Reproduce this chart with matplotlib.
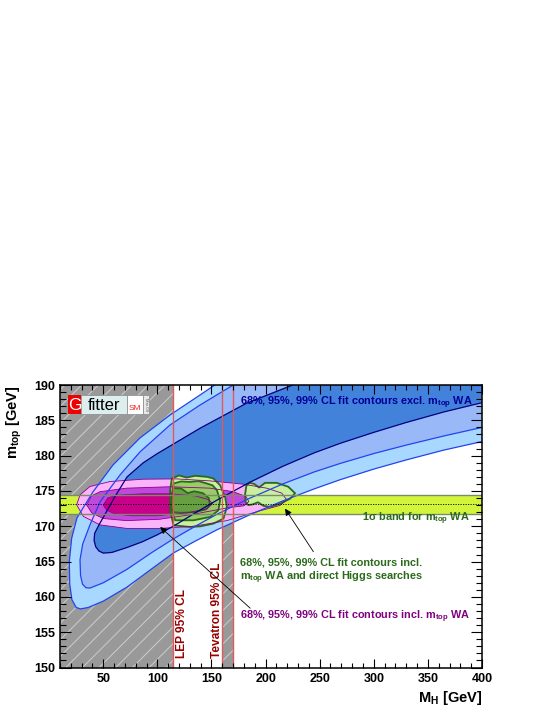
import matplotlib
matplotlib.use('Agg')
import matplotlib.pyplot as plt
from matplotlib.patches import Rectangle
import numpy as np

plt.rcParams['font.family'] = ['Liberation Sans', 'DejaVu Sans']
plt.rcParams['mathtext.fontset'] = 'custom'
plt.rcParams['mathtext.rm'] = 'Liberation Sans'
plt.rcParams['mathtext.bf'] = 'Liberation Sans:bold'
plt.rcParams['mathtext.it'] = 'Liberation Sans:italic'
plt.rcParams['hatch.linewidth'] = 0.7

# limits and top mass world average
lep_limit = 114.4
tev_low, tev_high = 160.0, 170.0
mtop_wa, mtop_err = 173.1, 1.3

# fit excluding mtop WA (blue), contour outlines (MH, mtop)
blue99_mh = [175, 153, 139.4, 111.7, 83.9, 59.0, 40.5, 25.7, 20.8, 18.6, 19.0, 21.0, 25, 29, 36, 50,
             72, 95, 114.6, 135, 155, 185, 216, 245, 269, 300, 330, 365, 400, 430, 430]
blue99_mt = [192, 190, 188.59, 185.76, 182.51, 178.69, 174.88, 171.2, 168.33, 165.03, 161.8, 159.6, 158.5,
             158.3, 158.5, 159.4, 161.4, 164.0, 166.2, 167.9, 169.5, 171.6, 173.6, 175.3, 176.6, 178.1,
             179.4, 180.8, 182.0, 183.0, 200]
blue95_mh = [195, 170, 139.4, 111.7, 83.9, 65.5, 47.0, 37.7, 31, 28.5, 29, 30.8, 34, 37.7, 50, 71.9,
             95, 114.6, 135, 155, 185, 216, 245, 269, 300, 330, 365, 400, 430, 430]
blue95_mt = [192.3, 190, 187.17, 184.35, 180.53, 177.28, 173.46, 170.21, 167.5, 165.27, 163.0, 161.8,
             161.3, 161.25, 162.0, 163.9, 166.3, 168.2, 170.0, 171.7, 173.95, 176.0, 177.7, 178.9, 180.3,
             181.5, 182.8, 184.0, 184.9, 200]
blue68_mh = [260, 225, 182, 139.6, 100, 87, 72, 60, 52, 46, 42, 41.5, 43, 46, 50, 58, 72, 86, 100,
             114.6, 135, 155, 185, 216, 245, 269, 300, 330, 365, 400, 430, 430]
blue68_mt = [200, 190, 187.4, 183.9, 180.3, 179.0, 177.0, 174.0, 171.8, 170.2, 169.0, 168.0, 167.1,
             166.5, 166.2, 166.3, 167.0, 167.8, 168.8, 170.0, 171.9, 173.7, 176.2, 178.5, 180.4, 181.75,
             183.3, 184.7, 186.2, 187.5, 188.6, 200]

# fit including mtop WA (magenta)
mag99_mh = [25.4, 28.5, 37.7, 56.2, 87.0, 117.8, 148.6, 179.5, 201, 214.9, 219.5, 213.3, 194.9, 164.1,
            133.2, 102.4, 71.6, 47.0, 31.6]
mag99_mt = [173.04, 174.45, 175.63, 176.34, 176.67, 176.71, 176.43, 175.96, 175.4, 174.7, 173.75, 172.95,
            172.2, 170.8, 170.0, 169.7, 169.7, 170.2, 171.4]
mag95_mh = [34.6, 39, 47, 71.6, 111.7, 148.6, 170.2, 182, 184.5, 180, 164.1, 133.2, 102.4, 71.6, 50, 39.3]
mag95_mt = [173.04, 174.3, 174.9, 175.4, 175.6, 175.4, 174.9, 174.2, 173.5, 172.9, 172.6, 171.7, 171.0,
            170.8, 171.1, 171.9]
mag68_mh = [50, 54, 62, 87, 112, 135, 147, 151, 146, 128, 100, 75, 60, 53]
mag68_mt = [173.0, 174.0, 174.4, 174.6, 174.6, 174.3, 173.8, 173.2, 172.5, 171.9, 171.5, 171.5, 171.8, 172.3]

# fit including mtop WA and direct Higgs searches (green)
grn99_mh = [111.8, 113.4, 120, 127, 135, 146, 151.8, 158.0, 162.6, 164.2, 161.1, 151.8, 140, 130.3,
            114.9, 111.8]
grn99_mt = [175.1, 176.77, 177.2, 176.9, 177.15, 177.0, 176.77, 175.82, 174.16, 172.74, 171.09, 170.38,
            170.0, 169.9, 170.14, 172.27]
grn99b_mh = [181.0, 182.3, 185.5, 189.5, 194.0, 199.5, 210.3, 221.0, 227.2, 222.6, 213.3, 204.1, 198,
             193, 188, 184, 181.6]
grn99b_mt = [174.45, 175.8, 176.15, 176.0, 175.5, 176.15, 176.15, 175.6, 174.69, 173.9, 173.2, 172.75,
             172.9, 173.4, 173.1, 173.0, 173.4]
grn95_mh = [113.5, 114.9, 122, 130.3, 138, 145.7, 151, 155.0, 158.0, 156.4, 148.8, 133.4, 116.5, 113.5]
grn95_mt = [174.5, 176.06, 176.35, 176.28, 176.4, 176.06, 175.8, 175.11, 173.69, 172.27, 171.32, 170.85,
            170.85, 172.0]
grn68_mh = [113, 114.5, 122, 128, 134, 142, 147.5, 148.5, 145, 135, 122, 114.5, 113]
grn68_mt = [173.8, 175.4, 175.35, 174.7, 174.95, 174.7, 174.0, 173.0, 172.4, 172.0, 171.9, 172.0, 172.6]

fig = plt.figure(figsize=(5.48, 7.09), dpi=100)
ax = fig.add_axes([0.1095, 0.0585, 0.770, 0.3984])

# excluded regions
ax.axvspan(10, lep_limit, facecolor='#999999', edgecolor='#cdcdcd', hatch='//', lw=0, zorder=1)
ax.axvspan(tev_low, tev_high, facecolor='#999999', edgecolor='#cdcdcd', hatch='//', lw=0, zorder=1)

# blue contours
ax.fill(blue99_mh, blue99_mt, facecolor='#a8d8ff', edgecolor='none', zorder=2)
ax.fill(blue95_mh, blue95_mt, facecolor='#99b8f8', edgecolor='none', zorder=2.1)
ax.fill(blue68_mh, blue68_mt, facecolor='#4282da', edgecolor='none', zorder=2.2)

# mtop WA band
ax.axhspan(mtop_wa - mtop_err, mtop_wa + mtop_err, facecolor='#d2f53c', edgecolor='none', zorder=3)

# magenta contours
ax.fill(mag99_mh, mag99_mt, facecolor='#fab4fa', edgecolor='none', zorder=4)
ax.fill(mag95_mh, mag95_mt, facecolor='#c048dc', edgecolor='none', zorder=4.1)
ax.fill(mag68_mh, mag68_mt, facecolor='#c8008a', edgecolor='none', zorder=4.2)

# green contours
ax.fill(grn99_mh, grn99_mt, facecolor='#c8f0a0', edgecolor='#2a6a1a', lw=1.3, zorder=5)
ax.fill(grn99b_mh, grn99b_mt, facecolor='#c8f0a0', edgecolor='#2a6a1a', lw=1.3, zorder=5)
ax.fill(grn95_mh, grn95_mt, facecolor='#99cc66', edgecolor='#2a6a1a', lw=1.3, zorder=5.1)
ax.fill(grn68_mh, grn68_mt, facecolor='#66a040', edgecolor='#2a6a1a', lw=1.3, zorder=5.2)

# contour lines on top
for xs, ys in [(mag99_mh, mag99_mt), (mag95_mh, mag95_mt), (mag68_mh, mag68_mt)]:
    ax.fill(xs, ys, facecolor='none', edgecolor='#8b008b', lw=0.6, zorder=6)
ax.fill(blue99_mh, blue99_mt, facecolor='none', edgecolor='#2244ee', lw=0.9, zorder=7)
ax.fill(blue95_mh, blue95_mt, facecolor='none', edgecolor='#2244ee', lw=0.9, zorder=7)
ax.fill(blue68_mh, blue68_mt, facecolor='none', edgecolor='#000080', lw=0.9, zorder=7)

ax.axhline(mtop_wa + mtop_err, color='#7a8c66', lw=1.0, zorder=7.5)
ax.axhline(mtop_wa - mtop_err, color='#7a8c66', lw=1.0, zorder=7.5)
ax.axhline(mtop_wa, color='black', lw=0.6, ls=(0, (1.5, 1.5)), zorder=7.5)

for xv in [lep_limit, tev_low, tev_high]:
    ax.axvline(xv, color='#e05a5a', lw=1.0, zorder=8)

# annotations
fs = 7.8
ax.text(176.5, 187.45, r'68%, 95%, 99% CL fit contours excl. $\mathbf{m_{top}}$ WA',
        color='#000099', fontsize=fs, fontweight='bold', va='center', zorder=9)
ax.text(289.2, 171.0, r'1σ band for $\mathbf{m_{top}}$ WA', color='#2a6a1a', fontsize=fs,
        fontweight='bold', va='center', zorder=9)
ax.text(176.5, 164.9, '68%, 95%, 99% CL fit contours incl.', color='#2a6a1a', fontsize=fs,
        fontweight='bold', va='center', zorder=9)
ax.text(176.5, 162.67, r'$\mathbf{m_{top}}$ WA and direct Higgs searches', color='#2a6a1a',
        fontsize=fs, fontweight='bold', va='center', zorder=9)
ax.text(176.5, 157.13, r'68%, 95%, 99% CL fit contours incl. $\mathbf{m_{top}}$ WA', color='#800080',
        fontsize=fs, fontweight='bold', va='center', zorder=9)

ax.text(123.0, 151.3, 'LEP 95% CL', rotation=90, color='#990000', fontsize=8.6, fontweight='bold',
        ha='center', va='bottom', zorder=9)
ax.text(155.5, 151.3, 'Tevatron 95% CL', rotation=90, color='#990000', fontsize=8.6,
        fontweight='bold', ha='center', va='bottom', zorder=9)

arrow = dict(arrowstyle='-|>', lw=0.6, color='black', mutation_scale=10, shrinkA=0, shrinkB=0)
ax.annotate('', xy=(102.6, 169.9), xytext=(185.8, 158.4), arrowprops=arrow, zorder=9)
ax.annotate('', xy=(218.0, 172.5), xytext=(244.2, 166.4), arrowprops=arrow, zorder=9)

# Gfitter logo
tr = ax.transAxes
ax.add_patch(Rectangle((0.019, 0.897), 0.031, 0.068, transform=tr, fc='#ee0000', ec='none', zorder=10))
ax.text(0.0345, 0.929, 'G', transform=tr, color='white', fontsize=12.5, ha='center', va='center', zorder=11)
ax.add_patch(Rectangle((0.050, 0.897), 0.109, 0.068, transform=tr, fc='#dceeee', ec='#888888', lw=0.5, zorder=10))
ax.text(0.1045, 0.929, 'fitter', transform=tr, color='black', fontsize=12, ha='center', va='center', zorder=11)
ax.add_patch(Rectangle((0.159, 0.897), 0.0375, 0.068, transform=tr, fc='white', ec='#888888', lw=0.5, zorder=10))
ax.text(0.1778, 0.918, 'SM', transform=tr, color='#ee2222', fontsize=6, ha='center', va='center', zorder=11)
ax.add_patch(Rectangle((0.1965, 0.897), 0.0145, 0.068, transform=tr, fc='#e8e8e8', ec='#888888', lw=0.5, zorder=10))
ax.text(0.2037, 0.931, 'Mar 09', transform=tr, color='#555555', fontsize=3, rotation=-90,
        ha='center', va='center', zorder=11)

# axes
ax.set_xlim(10, 400)
ax.set_ylim(150, 190)
ax.set_xticks(np.arange(50, 401, 50))
ax.set_xticks(np.arange(10, 401, 10), minor=True)
ax.set_yticks(np.arange(150, 191, 5))
ax.set_yticks(np.arange(150, 191, 1), minor=True)
ax.tick_params(which='both', direction='in', top=True, right=True, width=0.8, color='black')
ax.tick_params(axis='x', which='major', length=6.5, pad=4, labelsize=9)
ax.tick_params(axis='x', which='minor', length=3.3)
ax.tick_params(axis='y', which='major', length=8, pad=3.5, labelsize=9)
ax.tick_params(axis='y', which='minor', length=4)
for lab in ax.get_xticklabels() + ax.get_yticklabels():
    lab.set_fontweight('bold')
ax.xaxis.set_zorder(20)
ax.yaxis.set_zorder(20)
for sp in ax.spines.values():
    sp.set_linewidth(1.1)
    sp.set_zorder(20)

ax.text(-0.108, 1.0, r'$\mathbf{m_{top}}$ [GeV]', transform=tr, rotation=90, fontsize=10.5,
        fontweight='bold', ha='center', va='top')
ax.text(1.0, -0.108, r'$\mathbf{M_{H}}$ [GeV]', transform=tr, fontsize=10.5, fontweight='bold',
        ha='right', va='center')

fig.savefig('out.png', dpi=100)
